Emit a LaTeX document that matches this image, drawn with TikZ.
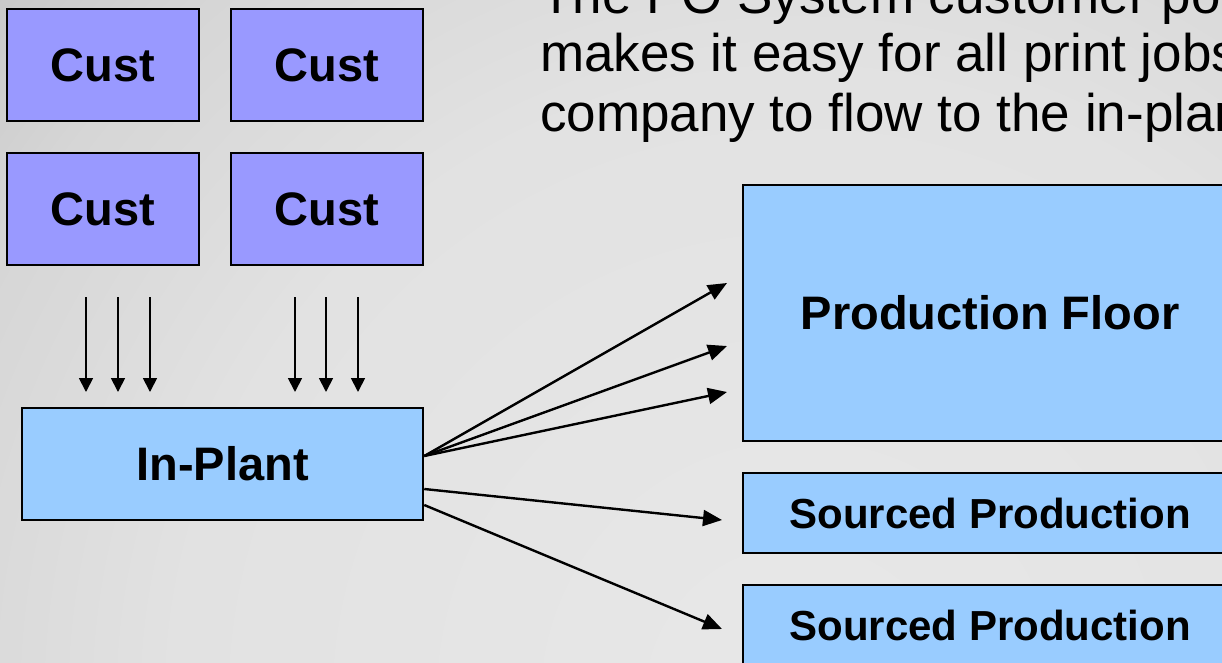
\documentclass[tikz,border=0pt]{standalone}
\usepackage{fontspec}
\setmainfont{Liberation Sans}
\usepackage{xcolor}
\usetikzlibrary{arrows.meta, calc}

\definecolor{custblue}{HTML}{9999FF}
\definecolor{plantblue}{HTML}{99CCFF}
\definecolor{bglight}{HTML}{E8E8E8}
\definecolor{bgpale}{HTML}{E2E2E2}
\definecolor{bgmid}{HTML}{D6D6D6}
\definecolor{bgshade}{HTML}{BEBEBE}
\definecolor{bgdark}{HTML}{B2B2B2}
\pgfdeclareradialshading{slideglow}{\pgfpoint{0bp}{0bp}}{color(0bp)=(bglight); color(13bp)=(bgpale); color(19bp)=(bgmid); color(25bp)=(bgshade); color(29.5bp)=(bgdark); color(50bp)=(bgdark)}

\begin{document}
\begin{tikzpicture}[x=1pt, y=-1pt,
		custbox/.style={draw, line width=2.5pt, fill=custblue, inner sep=0pt, minimum width=192pt, minimum height=112pt, font=\fontsize{47}{56}\selectfont\bfseries},
		plantbox/.style={draw, line width=2.5pt, fill=plantblue, inner sep=0pt, font=\fontsize{47}{56}\selectfont\bfseries},
		feed/.style={line width=1.8pt, -{Triangle[length=14pt, width=14pt]}},
		fan/.style={line width=2.4pt, -{Triangle[length=19pt, width=16pt]}}]
		%page frame
		\useasboundingbox (0,0) rectangle (1222,662);
		\clip (0,0) rectangle (1222,662);
		\fill [bgdark] (0,0) rectangle (1222,662);
		\shade [shading=slideglow] (800,700) circle (1200);
		
		%text at the top
		\def\blurbX{540}
		\node [anchor=base west, inner sep=0pt, font=\fontsize{53}{60}\selectfont] (blurb1) at (\blurbX,13) {The PO System customer portal};
		\node [anchor=base west, inner sep=0pt, font=\fontsize{53}{60}\selectfont] (blurb2) at (\blurbX,71) {makes it easy for all print jobs};
		\node [anchor=base west, inner sep=0pt, font=\fontsize{53}{60}\selectfont] (blurb3) at (\blurbX,131) {company to flow to the in-plant};
		
		%customers
		\node [custbox] (cust1) at (103,65) {Cust};
		\node [custbox] (cust2) at (327,65) {Cust};
		\node [custbox] (cust3) at (103,209) {Cust};
		\node [custbox] (cust4) at (327,209) {Cust};
		
		%in-plant and where the jobs go
		\node [plantbox, minimum width=401pt, minimum height=112pt] (inplant) at (222.5,464) {In-Plant};
		\node [plantbox, minimum width=494pt, minimum height=256pt] (floor) at (990,313) {Production Floor};
		\node [plantbox, minimum width=494pt, minimum height=80pt, font=\fontsize{42}{50}\selectfont\bfseries] (sourced1) at (990,513) {Sourced Production};
		\node [plantbox, minimum width=494pt, minimum height=80pt, font=\fontsize{42}{50}\selectfont\bfseries] (sourced2) at (990,625) {Sourced Production};
		
		%jobs coming in
		\foreach \x [count=\i] in {86,118,150,295,326,358} {
			\coordinate (drop\i) at (\x,297);
			\coordinate (land\i) at (\x,392);
			\draw [feed] (drop\i) -- (land\i);
		}
		
		%jobs going out
		\coordinate (fan1) at (727,283);
		\coordinate (fan2) at (727,346);
		\coordinate (fan3) at (727,392);
		\coordinate (fan4) at (722,520);
		\coordinate (fan5) at (722,629);
		\draw [fan] ([yshift=8pt]inplant.east) -- (fan1);
		\draw [fan] ([yshift=8pt]inplant.east) -- (fan2);
		\draw [fan] ([yshift=8pt]inplant.east) -- (fan3);
		\draw [fan] ([yshift=-25pt]inplant.east) -- (fan4);
		\draw [fan] ([yshift=-41pt]inplant.east) -- (fan5);
	\end{tikzpicture}
\end{document}
